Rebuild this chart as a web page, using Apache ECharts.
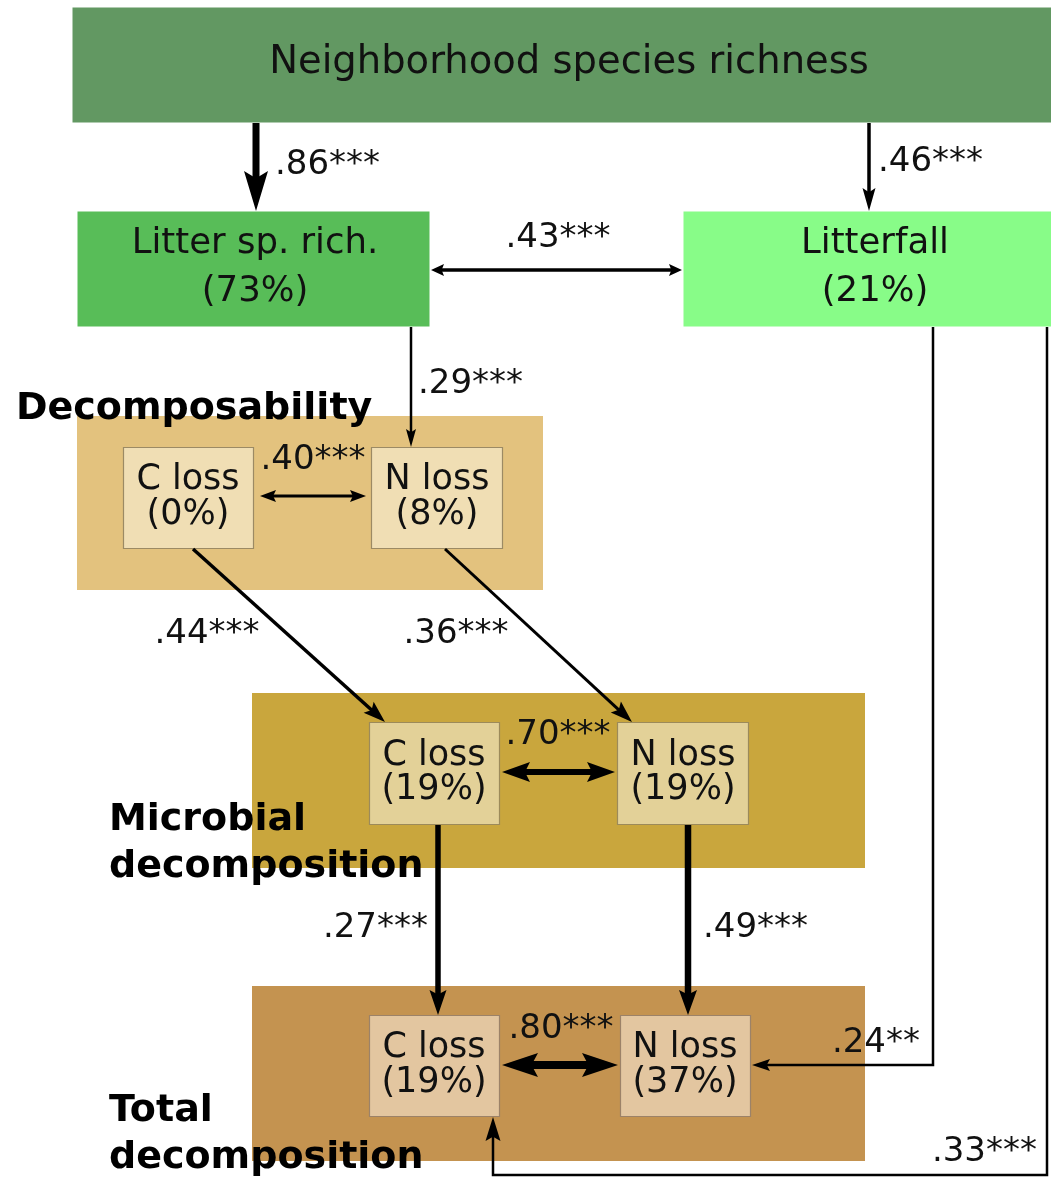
<!DOCTYPE html>
<html>
<head>
<meta charset="utf-8">
<script src="https://cdn.jsdelivr.net/npm/echarts@6/dist/echarts.min.js"></script>
<style>
  html, body { margin: 0; padding: 0; background: #ffffff; }
  #chart { width: 1051px; height: 1179px; }
</style>
</head>
<body>
<div id="chart"></div>
<script>
// ---- Path model: variables, explained variance (%) and standardized coefficients ----
const nodeNames = [
  'Neighborhood species richness',
  'Litter sp. rich.', 'Litterfall',
  'C loss', 'N loss',      // decomposability
  'C loss', 'N loss',      // microbial decomposition
  'C loss', 'N loss'       // total decomposition
];
const nodeExplained = [null, 73, 21, 0, 8, 19, 19, 19, 37];

const groupNames = ['Decomposability', 'Microbial\ndecomposition', 'Total\ndecomposition'];

const pathFrom = [0, 0, 1, 1, 3, 3, 4, 5, 5, 6, 7, 2, 2];
const pathTo   = [1, 2, 2, 4, 4, 5, 6, 6, 7, 8, 8, 8, 7];
const pathCoef = [0.86, 0.46, 0.43, 0.29, 0.40, 0.44, 0.36, 0.70, 0.27, 0.49, 0.80, 0.24, 0.33];
const pathSig  = ['***', '***', '***', '***', '***', '***', '***', '***', '***', '***', '***', '**', '***'];
const pathTwoWay = [false, false, true, false, true, false, false, true, false, false, true, false, false];

// ---- Layout of the diagram (drawing units = 1051 x 1179 frame) ----
const FRAME_W = 1051, FRAME_H = 1179;
const FONT = 'DejaVu Sans';

const panelRects  = [[77, 416, 543, 590], [252, 693, 865, 868], [252, 986, 865, 1161]];
const panelColors = ['#e3c27e', '#c9a63d', '#c49350'];
const groupLabelAt = [[16, 409], [109, 820], [109, 1111]];
const groupLineGap = 47;

const nodeRects = [
  [72, 7, 1060, 123],
  [77, 211, 430, 327], [683, 211, 1060, 327],
  [123, 447, 254, 549], [371, 447, 503, 549],
  [369, 722, 500, 825], [617, 722, 749, 825],
  [369, 1015, 500, 1117], [620, 1015, 751, 1117]
];
const nodeFill = ['#629862', '#58bd58', '#88fc88', '#f0deb4', '#f0deb4', '#e3d198', '#e3d198', '#e3c6a0', '#e3c6a0'];
const nodeStroke = [null, null, null, '#9c8a64', '#9c8a64', '#9c8a5a', '#9c8a5a', '#9c8268', '#9c8268'];
const nodeTextX = [569, 255, 875, 188, 437, 434, 683, 434, 685];
const nodeTextY = [[63], [244, 292], [244, 292], [480, 515], [480, 515], [756, 790], [756, 790], [1048, 1083], [1048, 1083]];
const nodeFontSize = [38.5, 35.5, 35.5, 35, 35, 35, 35, 35, 35];

const pathPoints = [
  [[256, 123], [256, 211]],
  [[869, 123], [869, 211]],
  [[431, 270], [682, 270]],
  [[411, 327], [411, 447]],
  [[260, 496], [366, 496]],
  [[193, 549], [385, 722]],
  [[445, 549], [632, 722]],
  [[502, 772], [615, 772]],
  [[438, 825], [438, 1015]],
  [[688, 825], [688, 1015]],
  [[502, 1065], [618, 1065]],
  [[933, 327], [933, 1065], [752, 1065]],
  [[1047, 327], [1047, 1175], [493, 1175], [493, 1117]]
];
const pathWidth = [7, 3.5, 3.5, 2.5, 3, 3.5, 3, 6, 5.5, 6.5, 8, 2.5, 2.5];
const headLen   = [40, 23, 13, 18, 16, 22, 22, 28, 25, 25, 36, 18, 24];
const headWid   = [24, 13, 12, 10, 12, 15, 15, 20, 17, 18, 24, 12, 15];
const pathLabelAt = [
  [275, 165, 'left'], [878, 162, 'left'], [558, 238, 'center'], [418, 384, 'left'],
  [313, 460, 'center'], [207, 634, 'center'], [456, 634, 'center'], [558, 735, 'center'],
  [428, 928, 'right'], [703, 928, 'left'], [561, 1029, 'center'], [920, 1043, 'right'],
  [1037, 1152, 'right']
];

function coefText(i) {
  return pathCoef[i].toFixed(2).replace(/^0/, '') + pathSig[i];
}

// Arrowhead polygon with a swept-back notch, tip at p, pointing along (dx, dy)
function headPolygon(p, dx, dy, len, wid) {
  const n = Math.hypot(dx, dy);
  const ux = dx / n, uy = dy / n;
  const nx = -uy, ny = ux;
  const bx = p[0] - ux * len, by = p[1] - uy * len;
  const mx = p[0] - ux * len * 0.82, my = p[1] - uy * len * 0.82;
  return [
    p,
    [bx + nx * wid / 2, by + ny * wid / 2],
    [mx, my],
    [bx - nx * wid / 2, by - ny * wid / 2]
  ];
}

const chart = echarts.init(document.getElementById('chart'), null, { renderer: 'canvas' });

const option = {
  animation: false,
  backgroundColor: '#ffffff',
  grid: { left: 0, right: 0, top: 0, bottom: 0 },
  xAxis: { type: 'value', min: 0, max: FRAME_W, show: false },
  yAxis: { type: 'value', min: 0, max: FRAME_H, inverse: true, show: false },
  series: [
    // latent groupings (background panels)
    {
      type: 'custom',
      name: 'groups',
      coordinateSystem: 'cartesian2d',
      silent: true,
      z: 1,
      data: groupNames.map((g, i) => [i]),
      renderItem: function (params, api) {
        const i = api.value(0);
        const r = panelRects[i];
        const a = api.coord([r[0], r[1]]);
        const b = api.coord([r[2], r[3]]);
        return {
          type: 'rect',
          shape: { x: a[0], y: a[1], width: b[0] - a[0], height: b[1] - a[1] },
          style: { fill: panelColors[i] }
        };
      }
    },
    // group titles
    {
      type: 'custom',
      name: 'groupTitles',
      coordinateSystem: 'cartesian2d',
      silent: true,
      z: 2,
      data: groupNames.map((g, i) => [i]),
      renderItem: function (params, api) {
        const i = api.value(0);
        const lines = groupNames[i].split('\n');
        return {
          type: 'group',
          children: lines.map((t, k) => {
            const p = api.coord([groupLabelAt[i][0], groupLabelAt[i][1] + k * groupLineGap]);
            return {
              type: 'text',
              style: {
                text: t, x: p[0], y: p[1],
                fontFamily: FONT, fontSize: 38, fontWeight: 'bold',
                fill: '#000000', align: 'left', verticalAlign: 'middle'
              }
            };
          })
        };
      }
    },
    // observed variables
    {
      type: 'custom',
      name: 'variables',
      coordinateSystem: 'cartesian2d',
      silent: true,
      z: 3,
      data: nodeNames.map((n, i) => [i]),
      renderItem: function (params, api) {
        const i = api.value(0);
        const r = nodeRects[i];
        const a = api.coord([r[0], r[1]]);
        const b = api.coord([r[2], r[3]]);
        const lines = [nodeNames[i]];
        if (nodeExplained[i] !== null) lines.push('(' + nodeExplained[i] + '%)');
        const children = [{
          type: 'rect',
          shape: { x: a[0] + 0.5, y: a[1] + 0.5, width: b[0] - a[0] - 1, height: b[1] - a[1] - 1 },
          style: nodeStroke[i]
            ? { fill: nodeFill[i], stroke: nodeStroke[i], lineWidth: 1.2 }
            : { fill: nodeFill[i] }
        }];
        lines.forEach((t, k) => {
          const p = api.coord([nodeTextX[i], nodeTextY[i][k]]);
          children.push({
            type: 'text',
            style: {
              text: t, x: p[0], y: p[1],
              fontFamily: FONT, fontSize: nodeFontSize[i],
              fill: '#111111', align: 'center', verticalAlign: 'middle'
            }
          });
        });
        return { type: 'group', children: children };
      }
    },
    // paths with coefficients
    {
      type: 'custom',
      name: 'paths',
      coordinateSystem: 'cartesian2d',
      silent: true,
      z: 4,
      data: pathCoef.map((c, i) => [i, c]),
      renderItem: function (params, api) {
        const i = api.value(0);
        const pts = pathPoints[i].map(p => api.coord(p));
        const L = headLen[i], Wd = headWid[i];
        const line = pts.map(p => p.slice());
        // pull the line ends back inside the arrowheads
        const last = line.length - 1;
        const dx = pts[last][0] - pts[last - 1][0], dy = pts[last][1] - pts[last - 1][1];
        const n = Math.hypot(dx, dy);
        line[last] = [pts[last][0] - dx / n * L * 0.7, pts[last][1] - dy / n * L * 0.7];
        const children = [];
        children.push({
          type: 'polygon',
          shape: { points: headPolygon(pts[last], dx, dy, L, Wd) },
          style: { fill: '#000000' }
        });
        if (pathTwoWay[i]) {
          const ex = pts[0][0] - pts[1][0], ey = pts[0][1] - pts[1][1];
          const en = Math.hypot(ex, ey);
          line[0] = [pts[0][0] - ex / en * L * 0.7, pts[0][1] - ey / en * L * 0.7];
          children.push({
            type: 'polygon',
            shape: { points: headPolygon(pts[0], ex, ey, L, Wd) },
            style: { fill: '#000000' }
          });
        }
        children.unshift({
          type: 'polyline',
          shape: { points: line },
          style: { stroke: '#000000', lineWidth: pathWidth[i], fill: null, lineJoin: 'miter' }
        });
        const lp = api.coord([pathLabelAt[i][0], pathLabelAt[i][1]]);
        children.push({
          type: 'text',
          style: {
            text: coefText(i), x: lp[0], y: lp[1],
            fontFamily: FONT, fontSize: 34,
            fill: '#111111', align: pathLabelAt[i][2], verticalAlign: 'middle'
          }
        });
        return { type: 'group', children: children };
      }
    }
  ]
};

chart.setOption(option);
</script>
</body>
</html>
